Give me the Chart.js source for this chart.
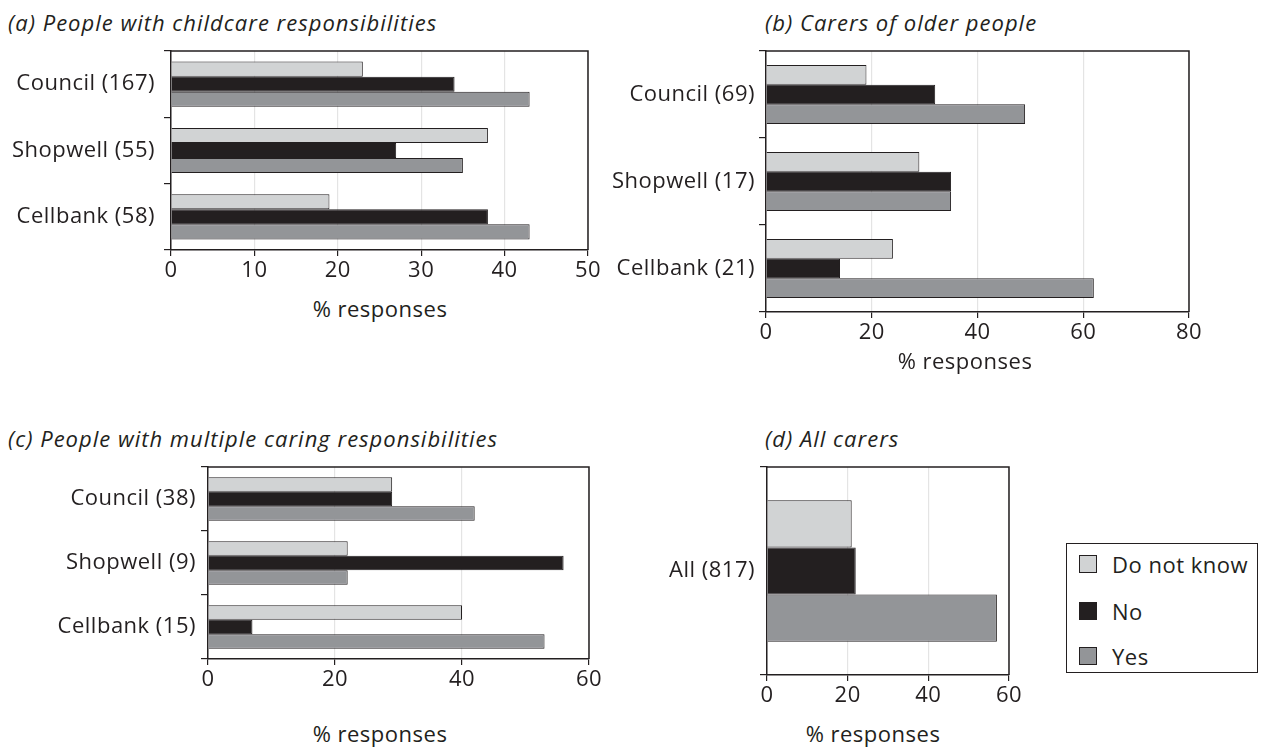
<!DOCTYPE html>
<html>
<head>
<meta charset="utf-8">
<script src="https://cdn.jsdelivr.net/npm/chart.js@4/dist/chart.umd.min.js"></script>
<style>
  html, body { margin: 0; padding: 0; background: #fff; }
  body { width: 1261px; height: 747px; position: relative; overflow: hidden;
         font-family: "Open Sans", sans-serif; color: #231f20; }
  canvas { position: absolute; }
  .heading { position: absolute; font-style: italic; font-size: 22px; line-height: 28px; letter-spacing: 1px; white-space: nowrap; }
  .axis-title { position: absolute; font-size: 22px; line-height: 28px; letter-spacing: 0.5px; white-space: nowrap; transform: translateX(-50%); }
  .legend { position: absolute; left: 1066px; top: 543px; width: 190px; height: 128px;
            border: 1.5px solid #231f20; }
  .legend-item { position: absolute; left: 12px; height: 28px; line-height: 28px; font-size: 22px; letter-spacing: 0.5px; white-space: nowrap; }
  .legend-item span.sw { position: absolute; left: 0; top: 5px; width: 18px; height: 18px;
                         box-sizing: border-box; border: 1px solid #231f20; }
  .legend-item span.tx { position: absolute; left: 33px; top: 0; }
</style>
</head>
<body>

<div class="heading" style="left:8px; top:8px;">(a) People with childcare responsibilities</div>
<div class="heading" style="left:765px; top:8px;">(b) Carers of older people</div>
<div class="heading" style="left:8px; top:424px;">(c) People with multiple caring responsibilities</div>
<div class="heading" style="left:765px; top:424px;">(d) All carers</div>

<canvas id="chartA" width="608" height="250" style="left:0px; top:40px;"></canvas>
<canvas id="chartB" width="619" height="312" style="left:590px; top:40px;"></canvas>
<canvas id="chartC" width="609" height="244" style="left:0px; top:455px;"></canvas>
<canvas id="chartD" width="439" height="260" style="left:590px; top:455px;"></canvas>

<div class="axis-title" style="left:380px; top:294px;">% responses</div>
<div class="axis-title" style="left:965px; top:346px;">% responses</div>
<div class="axis-title" style="left:380px; top:719px;">% responses</div>
<div class="axis-title" style="left:873px; top:719px;">% responses</div>

<div class="legend" id="legend"></div>

<script>
// Series names and fills
const seriesNames = ['Do not know', 'No', 'Yes'];
const seriesColors = ['#d1d3d4', '#231f20', '#939598'];

// (a) People with childcare responsibilities
const categoriesA = ['Council (167)', 'Shopwell (55)', 'Cellbank (58)'];
const dontKnowA = [23, 38, 19];
const noA = [34, 27, 38];
const yesA = [43, 35, 43];
const ticksA = [0, 10, 20, 30, 40, 50];

// (b) Carers of older people
const categoriesB = ['Council (69)', 'Shopwell (17)', 'Cellbank (21)'];
const dontKnowB = [19, 29, 24];
const noB = [32, 35, 14];
const yesB = [49, 35, 62];
const ticksB = [0, 20, 40, 60, 80];

// (c) People with multiple caring responsibilities
const categoriesC = ['Council (38)', 'Shopwell (9)', 'Cellbank (15)'];
const dontKnowC = [29, 22, 40];
const noC = [29, 56, 7];
const yesC = [42, 22, 53];
const ticksC = [0, 20, 40, 60];

// (d) All carers
const categoriesD = ['All (817)'];
const dontKnowD = [21];
const noD = [22];
const yesD = [57];
const ticksD = [0, 20, 40, 60];

const INK = '#231f20';
const FONT = { family: '"Open Sans", sans-serif', size: 22 };

// Slightly open letter spacing for all canvas text
const spacing = {
  id: 'spacing',
  beforeInit(chart) { chart.ctx.letterSpacing = '0.5px'; },
  beforeDraw(chart) { chart.ctx.letterSpacing = '0.5px'; }
};

// Closes the plot box along the top and right edges
const frame = {
  id: 'frame',
  afterDatasetsDraw(chart) {
    const { ctx, chartArea: a } = chart;
    ctx.save();
    ctx.strokeStyle = INK;
    ctx.lineWidth = 1.5;
    ctx.beginPath();
    ctx.moveTo(a.left, a.top);
    ctx.lineTo(a.right, a.top);
    ctx.lineTo(a.right, a.bottom);
    ctx.stroke();
    ctx.restore();
  }
};

// Fixed axis sizes so every plot box sits at a known place in its canvas
function fixSize(prop, size) {
  return function (scale) {
    scale[prop] = size;
    scale.paddingTop = 0;
    scale.paddingBottom = 0;
    scale.paddingLeft = 0;
    scale.paddingRight = 0;
  };
}

function makeChart(id, categories, dk, no, yes, tickValues, yWidth, xHeight, padTop, labelPad) {
  const values = [dk, no, yes];
  const datasets = seriesNames.map((name, i) => ({
    label: name,
    data: values[i],
    backgroundColor: seriesColors[i],
    borderColor: INK,
    borderWidth: 1,
    barPercentage: 1,
    categoryPercentage: 0.68
  }));
  return new Chart(document.getElementById(id), {
    type: 'bar',
    data: { labels: categories, datasets },
    plugins: [spacing, frame],
    options: {
      indexAxis: 'y',
      responsive: false,
      animation: false,
      layout: { padding: { top: padTop, right: 20, bottom: 0, left: 0 } },
      plugins: { legend: { display: false }, tooltip: { enabled: false } },
      scales: {
        x: {
          min: tickValues[0],
          max: tickValues[tickValues.length - 1],
          afterBuildTicks(scale) { scale.ticks = tickValues.map(v => ({ value: v })); },
          afterFit: fixSize('height', xHeight),
          grid: { color: '#e4e4e4', lineWidth: 1.2, tickColor: INK, tickLength: 6, drawTicks: true },
          border: { color: INK, width: 1.5 },
          ticks: { color: INK, font: FONT, padding: 2, maxRotation: 0 }
        },
        y: {
          offset: true,
          afterFit: fixSize('width', yWidth),
          grid: { offset: true, drawOnChartArea: false, color: INK, tickLength: 7, lineWidth: 1.2 },
          border: { color: INK, width: 1.5 },
          ticks: { color: INK, font: FONT, padding: labelPad }
        }
      }
    }
  });
}

makeChart('chartA', categoriesA, dontKnowA, noA, yesA, ticksA, 171, 40, 11, 9);
makeChart('chartB', categoriesB, dontKnowB, noB, yesB, ticksB, 176, 40, 11, 4);
makeChart('chartC', categoriesC, dontKnowC, noC, yesC, ticksC, 208, 40, 12, 5);
makeChart('chartD', categoriesD, dontKnowD, noD, yesD, ticksD, 177, 40, 12, 5);

// Legend entries
const legend = document.getElementById('legend');
const legendTops = [6, 53, 98];
seriesNames.forEach((name, i) => {
  const item = document.createElement('div');
  item.className = 'legend-item';
  item.style.top = legendTops[i] + 'px';
  const sw = document.createElement('span');
  sw.className = 'sw';
  sw.style.background = seriesColors[i];
  const tx = document.createElement('span');
  tx.className = 'tx';
  tx.textContent = name;
  item.appendChild(sw);
  item.appendChild(tx);
  legend.appendChild(item);
});
</script>
</body>
</html>
